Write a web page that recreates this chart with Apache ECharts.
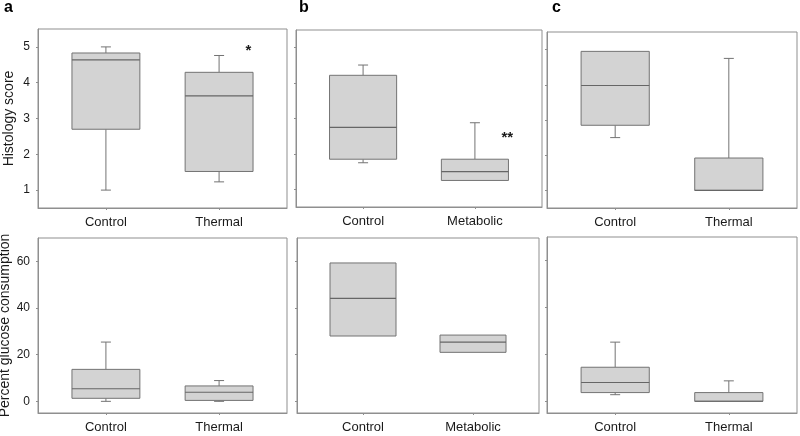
<!DOCTYPE html>
<html>
<head>
<meta charset="utf-8">
<script src="https://cdn.jsdelivr.net/npm/echarts@6/dist/echarts.min.js"></script>
<style>
html,body{margin:0;padding:0;background:#fff;}
#chart{width:800px;height:436px;}
</style>
</head>
<body>
<div id="chart"></div>
<script>
// ---- data ----
const catsA = ['Control', 'Thermal'];
const catsB = ['Control', 'Metabolic'];
const catsC = ['Control', 'Thermal'];
// each box: [min, Q1, median, Q3, max]
const histologyA = [[1.00, 2.70, 4.64, 4.83, 5.00], [1.23, 1.52, 3.63, 4.29, 4.76]];
const histologyB = [[1.75, 1.85, 2.75, 4.22, 4.51], [1.25, 1.25, 1.50, 1.85, 2.88]];
const histologyC = [[2.50, 2.85, 3.98, 4.95, 4.95], [1.00, 1.00, 1.00, 1.92, 4.75]];
const glucoseA = [[0.0, 1.3, 5.4, 13.7, 25.4], [0.0, 0.4, 3.9, 6.6, 8.9]];
const glucoseB = [[28.0, 28.0, 44.1, 59.3, 59.3], [21.0, 21.0, 25.4, 28.4, 28.4]];
const glucoseC = [[2.8, 3.7, 8.0, 14.5, 25.2], [0.0, 0.0, 0.0, 3.7, 8.7]];
const histologyTicks = [1, 2, 3, 4, 5];
const glucoseTicks = [0, 20, 40, 60];
const panelLetters = ['a', 'b', 'c'];
// significance marks: [x, y, text]
const sigA = [[2.26, 4.89, '*']];
const sigB = [[2.29, 2.46, '**']];

// ---- styling / layout ----
const FONT = '"Liberation Sans", Arial, sans-serif';
const FRAME = '#8f8f8f';
const BOX_FILL = '#d3d3d3';
const BOX_LINE = '#737373';
const TXT = '#1a1a1a';

const grids = [
  {left: 38, top: 29, width: 249, height: 179},
  {left: 296, top: 30, width: 246, height: 177},
  {left: 547, top: 32, width: 250, height: 176},
  {left: 38, top: 238, width: 249, height: 175},
  {left: 297, top: 238, width: 242, height: 175},
  {left: 547, top: 237, width: 250, height: 176}
];
const panels = [
  {cats: catsA, boxes: histologyA, ticks: histologyTicks, min: 0.5, max: 5.5, labels: true, name: 'Histology score', nameGap: 22, sig: sigA},
  {cats: catsB, boxes: histologyB, ticks: histologyTicks, min: 0.5, max: 5.5, labels: false, sig: sigB},
  {cats: catsC, boxes: histologyC, ticks: histologyTicks, min: 0.5, max: 5.5, labels: false},
  {cats: catsA, boxes: glucoseA, ticks: glucoseTicks, min: -5, max: 70, labels: true, name: 'Percent glucose consumption', nameGap: 26},
  {cats: catsB, boxes: glucoseB, ticks: glucoseTicks, min: -5, max: 70, labels: false},
  {cats: catsC, boxes: glucoseC, ticks: glucoseTicks, min: -5, max: 70, labels: false}
];

function renderBox(params, api) {
  const x = api.value(0);
  const mn = api.value(1), q1 = api.value(2), md = api.value(3), q3 = api.value(4), mx = api.value(5);
  const hw = 0.3;
  const tl = api.coord([x - hw, q3]);
  const br = api.coord([x + hw, q1]);
  const cx = api.coord([x, q1])[0];
  const yMin = api.coord([x, mn])[1];
  const yMax = api.coord([x, mx])[1];
  const yMed = api.coord([x, md])[1];
  const cap = 5;
  const ls = {stroke: BOX_LINE, lineWidth: 1};
  const children = [];
  if (mx > q3) {
    children.push({type: 'line', shape: {x1: cx, y1: tl[1], x2: cx, y2: yMax}, style: ls});
    children.push({type: 'line', shape: {x1: cx - cap, y1: yMax, x2: cx + cap, y2: yMax}, style: ls});
  }
  if (mn < q1) {
    children.push({type: 'line', shape: {x1: cx, y1: br[1], x2: cx, y2: yMin}, style: ls});
    children.push({type: 'line', shape: {x1: cx - cap, y1: yMin, x2: cx + cap, y2: yMin}, style: ls});
  }
  children.push({type: 'rect', shape: {x: tl[0], y: tl[1], width: br[0] - tl[0], height: br[1] - tl[1]},
    style: {fill: BOX_FILL, stroke: BOX_LINE, lineWidth: 1}});
  children.push({type: 'line', shape: {x1: tl[0], y1: yMed, x2: br[0], y2: yMed}, style: {stroke: '#666', lineWidth: 1.2}});
  return {type: 'group', children: children};
}

function renderSig(params, api) {
  const p = api.coord([api.value(0), api.value(1)]);
  return {type: 'text', x: p[0], y: p[1],
    style: {text: params.context.texts[params.dataIndex], font: 'bold 15px ' + FONT, fill: TXT, align: 'center', verticalAlign: 'middle'}};
}

const option = {
  animation: false,
  backgroundColor: '#fff',
  grid: grids.map(g => Object.assign({show: true, borderColor: FRAME, borderWidth: 1, containLabel: false, outerBoundsMode: 'none'}, g)),
  xAxis: panels.map((p, i) => ({
    type: 'value', gridIndex: i, min: 0.4, max: 2.6,
    splitLine: {show: false},
    axisLine: {show: true, onZero: false, lineStyle: {color: FRAME}},
    axisTick: {show: true, length: 2, inside: false, customValues: [1, 2], lineStyle: {color: FRAME}},
    axisLabel: {show: true, customValues: [1, 2], formatter: v => p.cats[Math.round(v) - 1] || '',
      margin: 8, fontSize: 13, color: TXT, fontFamily: FONT}
  })),
  yAxis: panels.map((p, i) => ({
    type: 'value', gridIndex: i, min: p.min, max: p.max,
    splitLine: {show: false},
    axisLine: {show: true, onZero: false, lineStyle: {color: FRAME}},
    axisTick: {show: true, length: 2, inside: false, customValues: p.ticks, lineStyle: {color: FRAME}},
    axisLabel: {show: p.labels, customValues: p.ticks, margin: 8, fontSize: 12, color: TXT, fontFamily: FONT},
    name: p.name || '', nameLocation: 'middle', nameGap: p.nameGap || 20,
    nameTextStyle: {fontSize: 14, color: TXT, fontFamily: FONT}
  })),
  graphic: panelLetters.map((t, i) => ({
    type: 'text', left: [4, 299, 552][i], top: 0,
    style: {text: t, font: 'bold 16px ' + FONT, fill: '#000'}
  })),
  series: []
};

panels.forEach((p, i) => {
  option.series.push({
    type: 'custom', xAxisIndex: i, yAxisIndex: i,
    encode: {x: 0, y: [1, 2, 3, 4, 5]},
    data: p.boxes.map((b, k) => [k + 1].concat(b)),
    renderItem: renderBox
  });
  if (p.sig) {
    const texts = p.sig.map(s => s[2]);
    option.series.push({
      type: 'custom', xAxisIndex: i, yAxisIndex: i,
      encode: {x: 0, y: 1},
      data: p.sig.map(s => [s[0], s[1]]),
      renderItem: function (params, api) { params.context.texts = texts; return renderSig(params, api); }
    });
  }
});

const chart = echarts.init(document.getElementById('chart'), null, {renderer: 'canvas'});
chart.setOption(option);
</script>
</body>
</html>
